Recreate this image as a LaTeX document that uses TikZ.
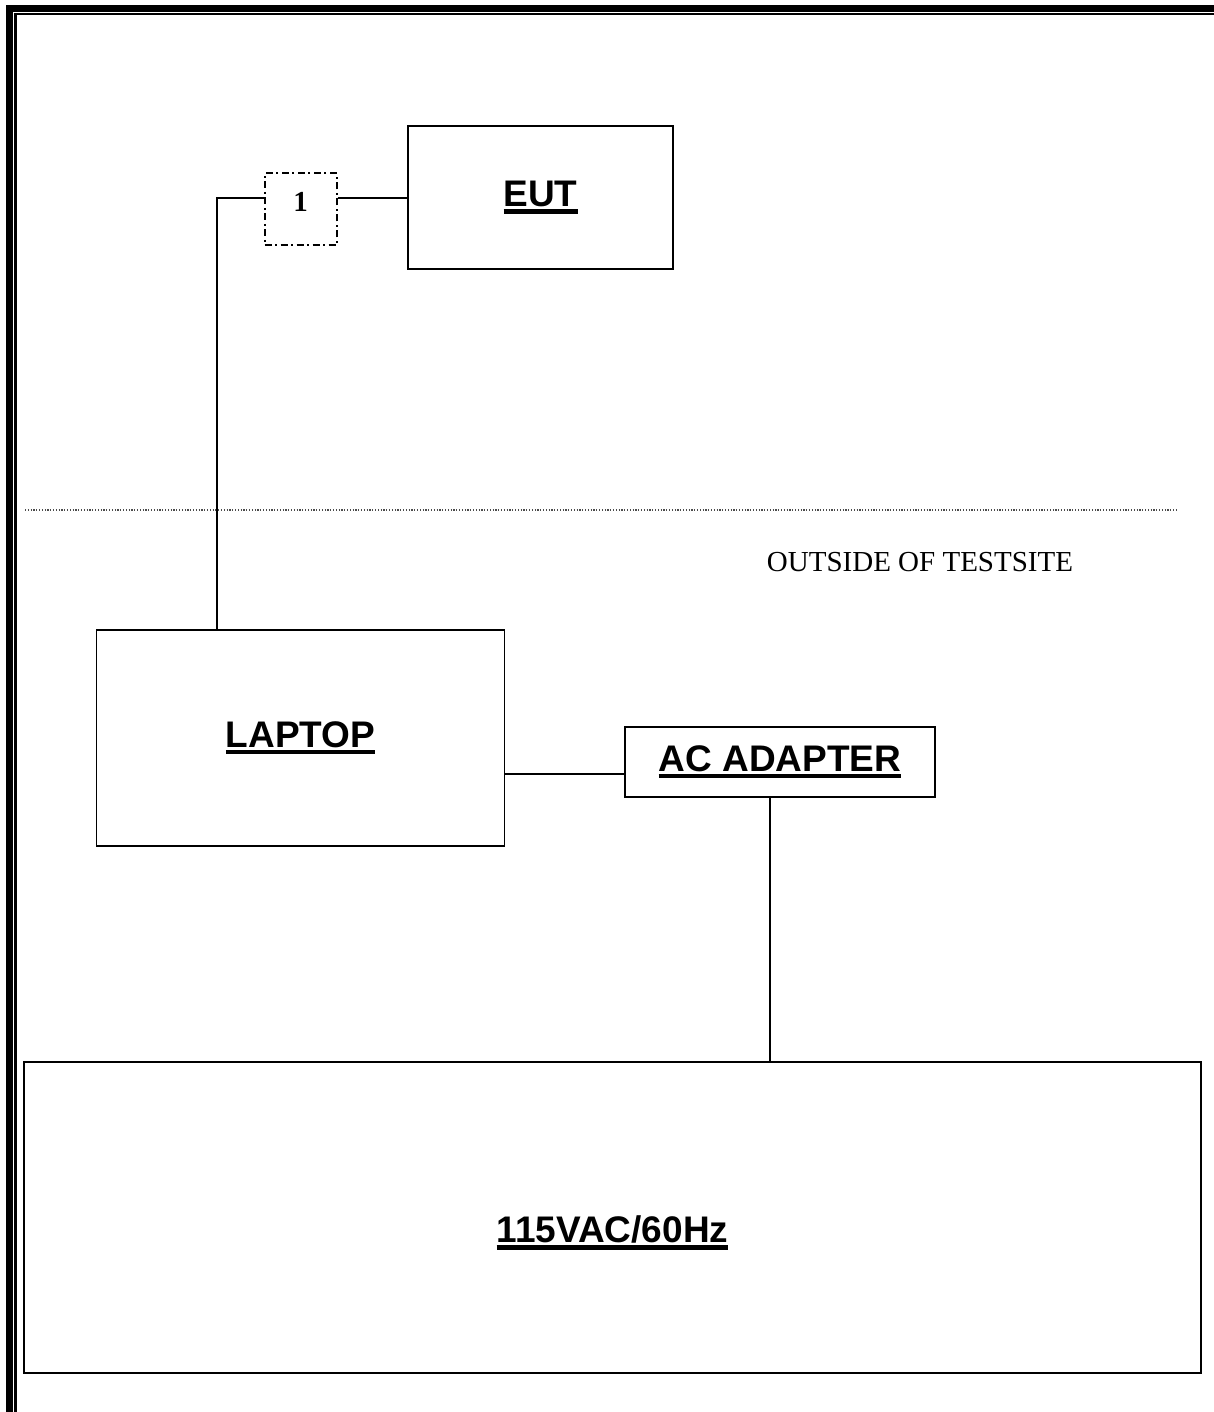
\documentclass[tikz,border=0pt]{standalone}
\usepackage{fontspec}
\setmainfont{Liberation Serif}
\newfontfamily\arialfont{Liberation Sans}
\usetikzlibrary{positioning}
\newcommand{\ulined}[1]{\vtop{\hbox{#1}\kern2pt\hrule height 4.5pt}}

\begin{document}
\begin{tikzpicture}[x=1pt,y=-1pt,
        box/.style={draw,line width=1.8pt,inner sep=0pt},
        dashdotbox/.style={box,line width=2pt,dash pattern=on 7pt off 3.5pt on 2pt off 3.5pt},
        title/.style={font=\arialfont\bfseries\fontsize{37}{40}\selectfont},
        wire/.style={line width=1.8pt},
        divider/.style={line width=1.2pt,black!70,dash pattern=on 1.2pt off 1.6pt}]
        \useasboundingbox (0,0) rectangle (1214,1412);

        % Page frame
        \draw[line width=6.5pt] (9.5,1412) -- (9.5,8.5) -- (1214,8.5);
        \draw[line width=2.5pt] (15.5,1412) -- (15.5,14) -- (1214,14);

        % Test site
        \node[box,title,minimum width=265,minimum height=143] (eut) at (540.5,197.5) {\ulined{EUT}};
        \node[dashdotbox,minimum size=72] (one) at (300.5,209.5) {};
        \node[font=\bfseries\fontsize{29}{30}\selectfont] (onelabel) at ([yshift=7.5]one.center) {1};

        % Boundary
        \draw[divider] (25,510) -- (1177,510);
        \node[font=\fontsize{29}{30}\selectfont] (outside) at (920,562) {OUTSIDE OF TESTSITE};

        % Outside of test site
        \node[box,title,minimum width=408,minimum height=216] (laptop) at (300.5,738) {\ulined{LAPTOP}};
        \node[box,title,minimum width=310,minimum height=70] (adapter) at (780,762) {\ulined{AC ADAPTER}};
        \node[box,minimum width=1177,minimum height=311] (mains) at (612.5,1217.5) {};
        \node[title] (mainslabel) at ([yshift=-15]mains.center) {\ulined{115VAC/60Hz}};

        % Cables
        \draw[wire] ([yshift=11.5]one.east) -- ([yshift=11.5]one.east -| eut.west);
        \draw[wire] ([yshift=11.5]one.west) -| ([xshift=-83.5]laptop.north);
        \draw[wire] ([yshift=-36]laptop.east) -- ([yshift=-36]laptop.east -| adapter.west);
        \draw[wire] ([xshift=-10]adapter.south) -- ([xshift=-10]adapter.south |- mains.north);

\end{tikzpicture}
\end{document}
